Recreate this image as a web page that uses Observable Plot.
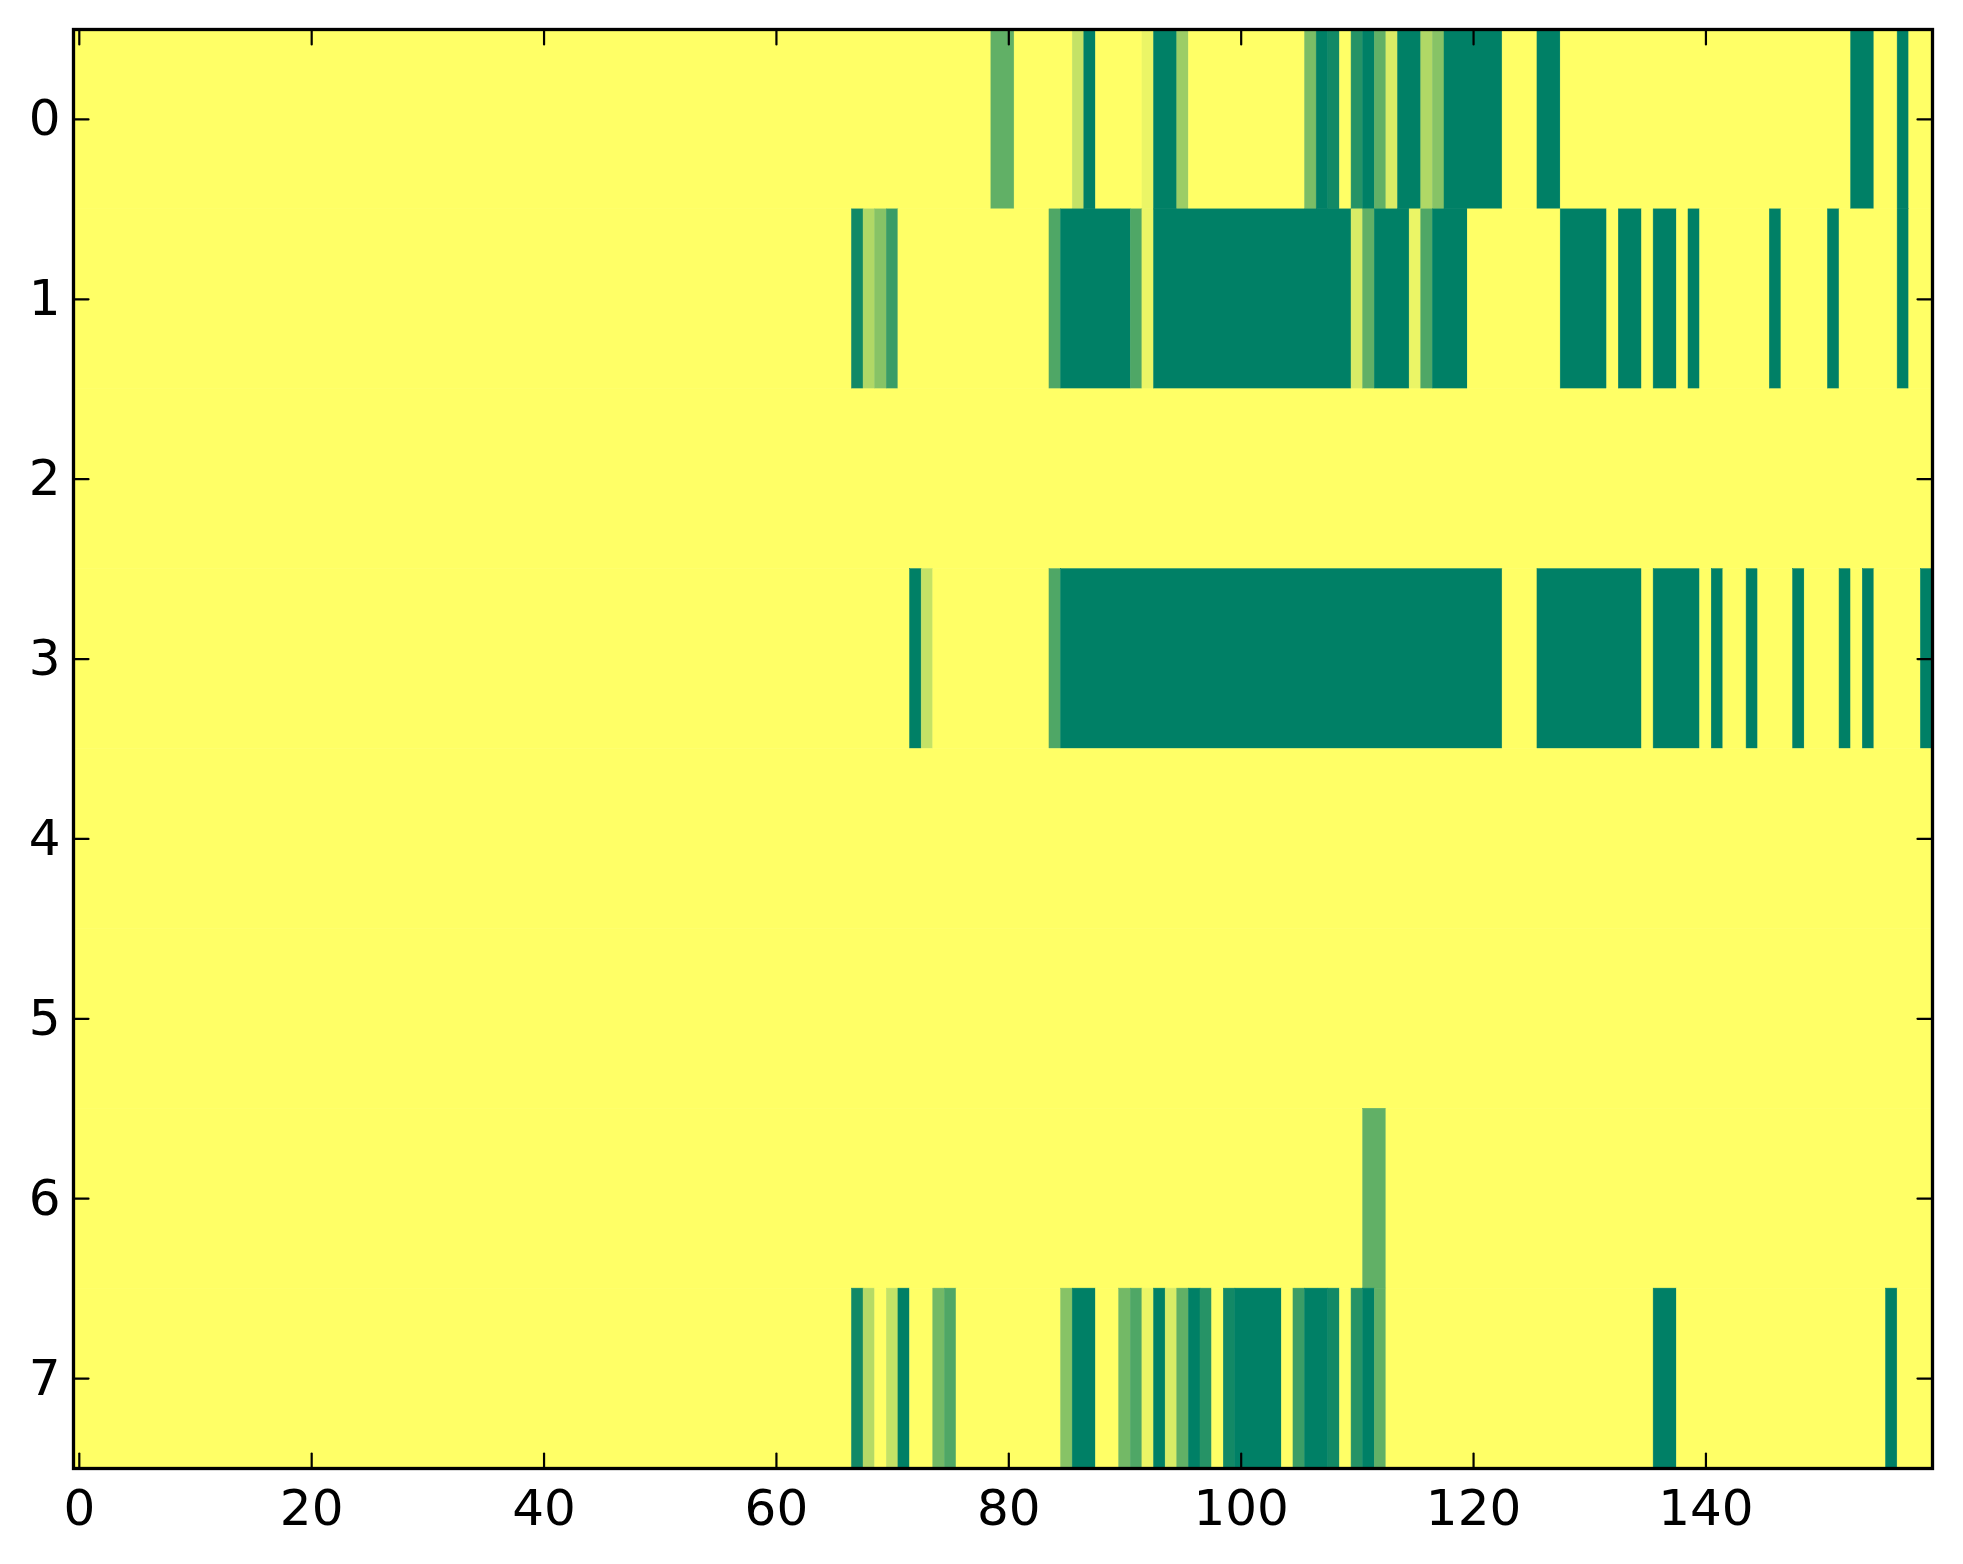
<!DOCTYPE html>
<html>
<head>
<meta charset="utf-8">
<script src="https://cdn.jsdelivr.net/npm/d3@7"></script>
<script src="https://cdn.jsdelivr.net/npm/@observablehq/plot@0.6"></script>
<style>
  html, body { margin: 0; padding: 0; background: #ffffff; }
  #chart { width: 1963px; height: 1564px; }
</style>
</head>
<body>
<div id="chart"></div>
<script>
// ---- data ----
const nCols = 160;
const rowLabels = [0, 1, 2, 3, 4, 5, 6, 7];
const xTicks = [0, 20, 40, 60, 80, 100, 120, 140];
const yTicks = [0, 1, 2, 3, 4, 5, 6, 7];

// runs of non-background cells: [firstColumn, lastColumn, value]; every other cell is 0
const row0 = [[79,80,.62],[86,86,.23],[87,87,1],[92,92,.08],[93,94,1],[95,95,.39],[106,106,.52],[107,107,1],[108,108,.93],[110,110,.85],[111,111,1],[112,112,.62],[113,113,.15],[114,115,1],[116,116,.31],[117,117,.47],[118,122,1],[126,127,1],[153,154,1],[157,157,1]];
const row1 = [[67,67,.93],[68,68,.31],[69,69,.47],[70,70,.77],[84,84,.69],[85,90,1],[91,91,.69],[92,92,.08],[93,109,1],[110,110,.15],[111,111,.62],[112,114,1],[115,115,.08],[116,116,.69],[117,119,1],[128,131,1],[133,134,1],[136,137,1],[139,139,1],[146,146,1],[151,151,1],[157,157,1]];
const row2 = [];
const row3 = [[72,72,1],[73,73,.23],[84,84,.69],[85,122,1],[126,134,1],[136,139,1],[141,141,1],[144,144,1],[148,148,1],[152,152,1],[154,154,1],[159,159,1]];
const row4 = [];
const row5 = [];
const row6 = [[111,112,.62]];
const row7 = [[67,67,.93],[68,68,.29],[70,70,.23],[71,71,1],[74,74,.55],[75,75,.69],[85,85,.47],[86,87,1],[90,90,.55],[91,91,.69],[92,92,.08],[93,93,1],[94,94,.15],[95,95,.62],[96,96,1],[97,97,.85],[99,99,.93],[100,103,1],[105,105,.77],[106,107,1],[108,108,.93],[110,110,.85],[111,111,1],[112,112,.62],[136,137,1],[156,156,1]];

const rowRuns = [row0, row1, row2, row3, row4, row5, row6, row7];

// full grid per row, then merged into segments of equal value (avoids seams)
const segments = [];
rowLabels.forEach((r, i) => {
  const vals = new Array(nCols).fill(0);
  for (const [a, b, v] of rowRuns[i]) for (let c = a; c <= b; c++) vals[c] = v;
  let start = 0;
  for (let c = 1; c <= nCols; c++) {
    if (c === nCols || vals[c] !== vals[start]) {
      segments.push({row: r, c0: start, c1: c - 1, value: vals[start]});
      start = c;
    }
  }
});

const tickShape = {draw(context, l) { context.moveTo(0, 0); context.lineTo(0, -l); }};
const tickOpts = {length: 15, anchor: "start", shape: tickShape, stroke: "black", strokeWidth: 2.2};

const chart = Plot.plot({
  width: 1963,
  height: 1564,
  marginLeft: 73,
  marginRight: 31,
  marginTop: 29,
  marginBottom: 96,
  style: {fontFamily: "'DejaVu Sans', sans-serif", fontSize: "50px", background: "#ffffff", color: "black"},
  x: {domain: [-0.5, nCols - 0.5], ticks: xTicks, label: null},
  y: {domain: [-0.5, rowLabels.length - 0.5], reverse: true, ticks: yTicks, label: null},
  color: {type: "linear", domain: [0, 1], range: ["#ffff66", "#008066"], interpolate: "rgb"},
  marks: [
    Plot.rect(segments, {
      x1: d => d.c0 - 0.5, x2: d => d.c1 + 0.5,
      y1: d => d.row - 0.5, y2: d => d.row + 0.5,
      fill: "value", stroke: "value", strokeWidth: 0.5
    }),
    Plot.axisX({ticks: xTicks, tickSize: 0, tickPadding: 21, fontSize: 50, tickFormat: d => String(d)}),
    Plot.axisY({ticks: yTicks, tickSize: 0, tickPadding: 13, fontSize: 50, tickFormat: d => String(d)}),
    Plot.vector(xTicks, {x: d => d, frameAnchor: "bottom", rotate: 0, ...tickOpts}),
    Plot.vector(xTicks, {x: d => d, frameAnchor: "top", rotate: 180, ...tickOpts}),
    Plot.vector(yTicks, {y: d => d, frameAnchor: "left", rotate: 90, ...tickOpts}),
    Plot.vector(yTicks, {y: d => d, frameAnchor: "right", rotate: -90, ...tickOpts}),
    Plot.frame({stroke: "black", strokeWidth: 3.3})
  ]
});
document.getElementById("chart").appendChild(chart);
</script>
</body>
</html>
